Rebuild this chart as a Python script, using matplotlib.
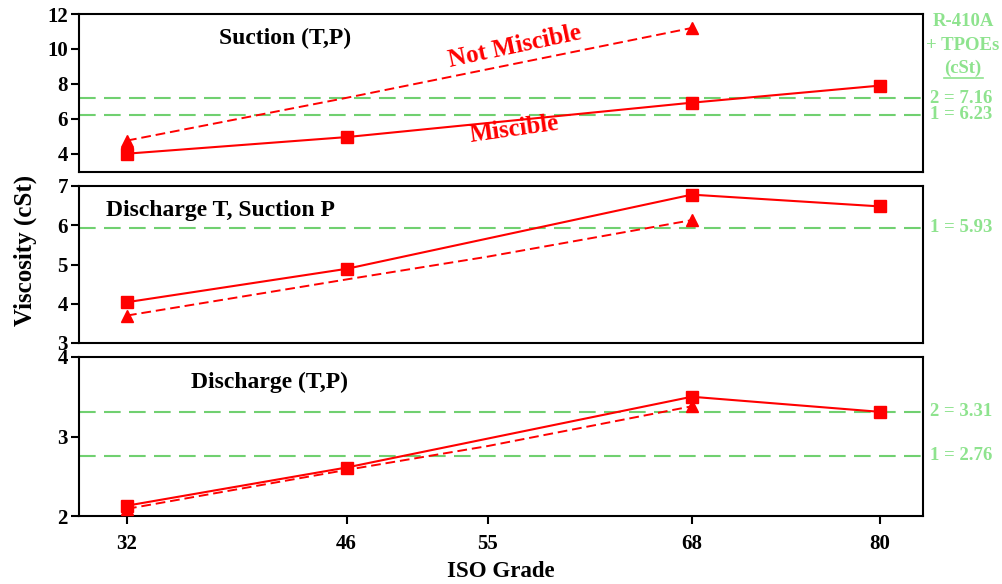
import matplotlib
matplotlib.use('Agg')
import matplotlib.pyplot as plt
from matplotlib.lines import Line2D

plt.rcParams['font.family'] = ['Liberation Serif', 'DejaVu Serif']
plt.rcParams['font.weight'] = 'bold'

# ISO grades on the x axis
grade_ticks = [32, 46, 55, 68, 80]

# miscible (solid, squares)
grades_mis = [32, 46, 68, 80]
suction_mis = [4.0, 4.95, 6.92, 7.9]
dis_t_suc_p_mis = [4.04, 4.89, 6.78, 6.48]
discharge_mis = [2.13, 2.61, 3.5, 3.31]

# not miscible (dashed, triangles)
grades_not_top = [32, 46, 68]
suction_not = [4.75, 7.2, 11.2]
grades_not = [32, 46, 55, 68]
dis_t_suc_p_not = [3.7, 4.62, 5.2, 6.13]
discharge_not = [2.09, 2.58, 2.88, 3.38]

# R-410A + TPOE reference viscosities
suction_ref = [("2 = 7.16", 7.16), ("1 = 6.23", 6.23)]
dis_t_suc_p_ref = [("1 = 5.93", 5.93)]
discharge_ref = [("2 = 3.31", 3.31), ("1 = 2.76", 2.76)]

panel_titles = ["Suction (T,P)", "Discharge T, Suction P", "Discharge (T,P)"]

RED = '#ff0000'
GREEN_LINE = '#70d070'
GREEN_TXT = '#8ee38e'

fig = plt.figure(figsize=(10.03, 5.84), dpi=100)
W, H = 1003, 584
left, right = 79, 923

def make_ax(top, bottom):
    return fig.add_axes([left / W, 1 - bottom / H, (right - left) / W, (bottom - top) / H])

ax1 = make_ax(14, 172)
ax2 = make_ax(186, 343)
ax3 = make_ax(357, 516)

panels = [
    (ax1, (2.95, 12), [4, 6, 8, 10, 12], grades_not_top, suction_not, suction_mis, suction_ref),
    (ax2, (3, 7), [3, 4, 5, 6, 7], grades_not, dis_t_suc_p_not, dis_t_suc_p_mis, dis_t_suc_p_ref),
    (ax3, (2, 4), [2, 3, 4], grades_not, discharge_not, discharge_mis, discharge_ref),
]

title_pos = [(0.244, 0.848), (0.167, 0.847), (0.226, 0.843)]

for i, (ax, ylim, yticks, gx_not, y_not, y_mis, refs) in enumerate(panels):
    for label, val in refs:
        ax.axhline(val, color=GREEN_LINE, lw=1.5, dashes=(8, 4), zorder=1)
        ax.text(1.008, val, label, transform=ax.get_yaxis_transform(),
                color=GREEN_TXT, fontsize=13.5, fontweight='bold', va='center', ha='left')
    ax.plot(gx_not, y_not, color=RED, lw=1.4, dashes=(5, 2.5), marker='^', ms=9,
            markevery=[0, len(gx_not) - 1], zorder=3)
    ax.plot(grades_mis, y_mis, color=RED, lw=1.5, marker='s', ms=8.5, zorder=4)
    ax.set_xlim(28.94, 82.74)
    ax.set_ylim(*ylim)
    ax.set_yticks(yticks)
    ax.tick_params(axis='y', direction='out', length=6, width=1.5, labelsize=15, pad=2)
    for lab in ax.get_yticklabels():
        lab.set_fontweight('bold')
    for sp in ax.spines.values():
        sp.set_linewidth(1.5)
    ax.text(title_pos[i][0], title_pos[i][1], panel_titles[i], transform=ax.transAxes,
            fontsize=17, fontweight='bold', ha='center', va='center')
    if ax is not ax3:
        ax.set_xticks([])

ax3.set_xticks(grade_ticks)
ax3.tick_params(axis='x', direction='out', length=6, width=1.5, labelsize=15, pad=7)
for lab in ax3.get_xticklabels():
    lab.set_fontweight('bold')
ax3.set_xlabel("ISO Grade", fontsize=16.5, fontweight='bold', labelpad=5)

# annotations in top panel
ax1.text(56.7, 10.16, "Not Miscible", color=RED, fontsize=18, fontweight='bold',
         rotation=12, ha='center', va='center')
ax1.text(56.7, 5.37, "Miscible", color=RED, fontsize=18, fontweight='bold',
         rotation=8, ha='center', va='center')

fig.text(25 / W, 1 - 250 / H, "Viscosity (cSt)", rotation=90, fontsize=18,
         fontweight='bold', ha='center', va='center')

# legend block for reference lines
fig.text(963 / W, 1 - 21 / H, "R-410A", color=GREEN_TXT, fontsize=13.5, fontweight='bold',
         ha='center', va='center')
fig.text(963 / W, 1 - 45 / H, "+ TPOEs", color=GREEN_TXT, fontsize=13.5, fontweight='bold',
         ha='center', va='center')
fig.text(963 / W, 1 - 68 / H, "(cSt)", color=GREEN_TXT, fontsize=13.5, fontweight='bold',
         ha='center', va='center')
fig.add_artist(Line2D([944 / W, 983 / W], [1 - 78 / H, 1 - 78 / H], color=GREEN_TXT, lw=1.2))

fig.savefig('out.png', dpi=100)
